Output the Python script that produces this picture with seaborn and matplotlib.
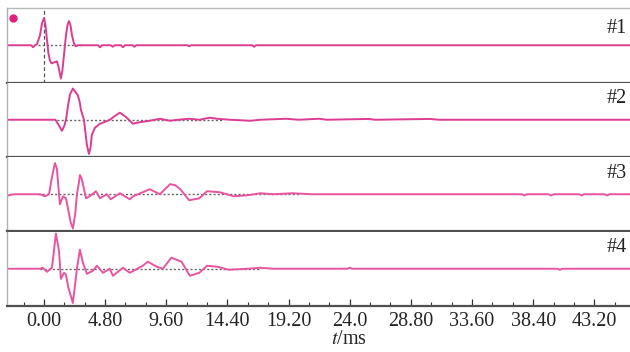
import numpy as np
import pandas as pd
import seaborn as sns
import matplotlib.pyplot as plt
import matplotlib.ticker as mt

# ---- data ----
tick_values = [0.0, 4.8, 9.6, 14.4, 19.2, 24.0, 28.8, 33.6, 38.4, 43.2]
tick_labels = ["0.00", "4.80", "9.60", "14.40", "19.20", "24.0", "28.80", "33.60", "38.40", "43.20"]
channel_names = ["#1", "#2", "#3", "#4"]

t1 = [-2.9, -1.0, -0.86, -0.7, -0.55, -0.31, -0.15, 0.0, 0.12, 0.24, 0.35, 0.47, 0.6, 0.8, 1.02, 1.15,
      1.33, 1.45, 1.57, 1.73, 1.85, 1.96, 2.08, 2.2, 2.35, 2.5, 2.67,
      4.25, 4.4, 4.55, 5.25, 5.4, 5.55, 6.05, 6.2, 6.35, 6.95, 7.1, 7.25, 11.25, 11.4, 11.55,
      16.35, 16.5, 16.65, 46.0]
a1 = [0, 0, -2, 0, 1, 10, 22, 27, 20, 5, -8, -15, -18, -17, -16, -22,
      -33, -25, -10, 10, 20, 24, 20, 10, 2, -1, 0,
      0, -2, 0, 0, -1.5, 0, 0, -2, 0, 0, -1.5, 0, 0, -1, 0,
      0, -1.5, 0, 0]

t2 = [-2.9, 0.9, 1.1, 1.41, 1.6, 1.73, 1.9, 2.04, 2.27, 2.45, 2.67, 2.8, 2.9, 3.14, 3.25, 3.37, 3.53,
      3.65, 3.76, 4.0, 4.39, 4.8, 5.17, 5.6, 5.96, 6.2, 6.5, 6.98, 7.3, 7.76, 8.3, 8.7, 9.1, 9.9,
      10.5, 11.4, 12.2, 13.0, 13.6, 14.6, 16.2, 17.0, 19.0, 20.0, 21.6, 22.2, 25.5, 26.0, 30.3, 31.0,
      46.0]
a2 = [0, 0, -4, -11, -6, 0, 15, 25, 31, 28, 24, 18, 10, 0, -12, -25, -34,
      -28, -15, -8, -4, -2, 0, 4, 7, 5, 2, -4, -3, -2, -1, 0, 1, -1,
      0, 1, 0, 2, 1, 0, -1, 0, 1, 0, 1, 0, 0.8, 0, 0.8, 0,
      0]

t3 = [-2.9, -2.6, -2.3, -0.3, 0.08, 0.4, 0.6, 0.86, 0.95, 1.02, 1.15, 1.25, 1.5, 1.73, 1.9, 2.1, 2.27,
      2.45, 2.59, 2.75, 2.82, 2.95, 3.06, 3.3, 3.6, 4.08, 4.4, 4.94, 5.25, 5.96, 6.74, 7.0, 7.76,
      8.3, 9.1, 9.9, 10.3, 10.7, 11.4, 12.2, 12.8, 13.8, 14.9, 16.0, 17.0, 18.0, 19.5, 21.0,
      37.5, 37.7, 37.9, 39.6, 39.8, 40.0, 42.0, 42.2, 42.4, 44.0, 44.2, 44.4, 46.0]
a3 = [-1.5, -0.5, 0, 0, -2, 0, 15, 31, 28, 25, 5, -10, -2, -4, -15, -28, -34,
      -20, 0, 12, 19, 16, 10, -4, -2, 3, -4, 0, -5, 1, -5, -2, 2,
      5, 0, 10, 9, 5, -6, -4, 3, 2, -2, -1, 1, 0, 1, 0,
      0, -1.2, 0, 0, -1.2, 0, 0, -1.2, 0, 0, -1.2, 0, 0]

t4 = [-2.9, -0.3, -0.1, 0.24, 0.63, 0.94, 1.18, 1.33, 1.57, 1.73, 1.9, 2.27, 2.59, 2.82, 3.06, 3.37,
      3.84, 4.16, 4.63, 5.17, 5.41, 6.2, 6.74, 7.76, 8.15, 8.86, 9.33, 10.0, 10.8, 11.45, 12.2,
      12.8, 13.6, 14.5, 16.0, 17.0, 18.0, 23.8, 24.0, 24.2, 40.3, 40.5, 40.7, 46.0]
a4 = [0, 0, 1, -3, 1, 35, 18, -10, -4, -6, -18, -34, 0, 19, 6, -5,
      -2, 3, -4, 0, -7, 1, -4, 3, 7, 2, 0, 11, 7, -7, -4,
      3, 2, -1, 0, 1, 0, 0, 1, 0, 0, -1, 0, 0]

dotted_start = [-0.5, 1.0, -0.5, -0.3]
dotted_end = [3.0, 14.0, 20.0, 17.0]

times = [t1, t2, t3, t4]
amps = [a1, a2, a3, a4]
line_colors = ["#dc3c92", "#dc3c92", "#e8559f", "#e8559f"]

# ---- drawing ----
sns.set_theme(style="white")
plt.rcParams['font.family'] = ['Liberation Serif', 'DejaVu Serif']
plt.rcParams['mathtext.fontset'] = 'stix'

fig = plt.figure(figsize=(6.3, 3.52), dpi=100)
axes = fig.subplots(4, 1, sharex=True, gridspec_kw=dict(hspace=0))
fig.subplots_adjust(left=7 / 630, right=1.0, top=1 - 8 / 352, bottom=1 - 306 / 352)

label_y = [0.72, 0.78, 0.78, 0.78]
for i, ax in enumerate(axes):
    ax.plot([dotted_start[i], dotted_end[i]], [0, 0], color="#666666", lw=1.0,
            ls=(0, (1.5, 1.5)), zorder=1)
    df = pd.DataFrame({"t": times[i], "a": amps[i]})
    sns.lineplot(data=df, x="t", y="a", ax=ax, color=line_colors[i], lw=1.4,
                 sort=False, estimator=None, zorder=2)
    ax.set_ylim(-37, 37)
    ax.set_xlim(-2.9, 46.0)
    ax.set_yticks([])
    ax.set_ylabel("")
    ax.set_xlabel("")
    ax.spines["right"].set_visible(False)
    ax.spines["left"].set_color("#b0b0b0")
    ax.spines["left"].set_linewidth(1.0)
    ax.spines["bottom"].set_color("#505050")
    ax.spines["bottom"].set_linewidth(1.6)
    if i == 0:
        ax.spines["top"].set_color("#b8b8b8")
        ax.spines["top"].set_linewidth(1.0)
    else:
        ax.spines["top"].set_visible(False)
    ax.text(0.995, label_y[i], channel_names[i], transform=ax.transAxes,
            ha="right", va="center", fontsize=14.5, color="#222222")
    if i < 3:
        ax.tick_params(axis="x", bottom=False, labelbottom=False)

# vertical dashed marker at t = 0 on the first trace
axes[0].axvline(0.0, color="#555555", lw=0.9, ls=(0, (3, 2)), zorder=1)
axes[0].plot([0.01], [0.87], marker="o", ms=5, color="#e0207f",
             transform=axes[0].transAxes, clip_on=False)

axb = axes[3]
axb.set_xticks(tick_values)
axb.set_xticklabels(tick_labels)
axb.xaxis.set_minor_locator(mt.MultipleLocator(1.6))
axb.tick_params(axis="x", which="major", direction="in", length=5, width=0.9,
                color="#333333", labelsize=14.5, pad=4, bottom=True)
axb.tick_params(axis="x", which="minor", direction="in", length=3, width=0.8,
                color="#333333", bottom=True)

fig.text(349 / 630, 1 - 340 / 352, r"$t$/ms", ha="center", va="center", fontsize=14.5)

fig.savefig("out.png", dpi=100)
